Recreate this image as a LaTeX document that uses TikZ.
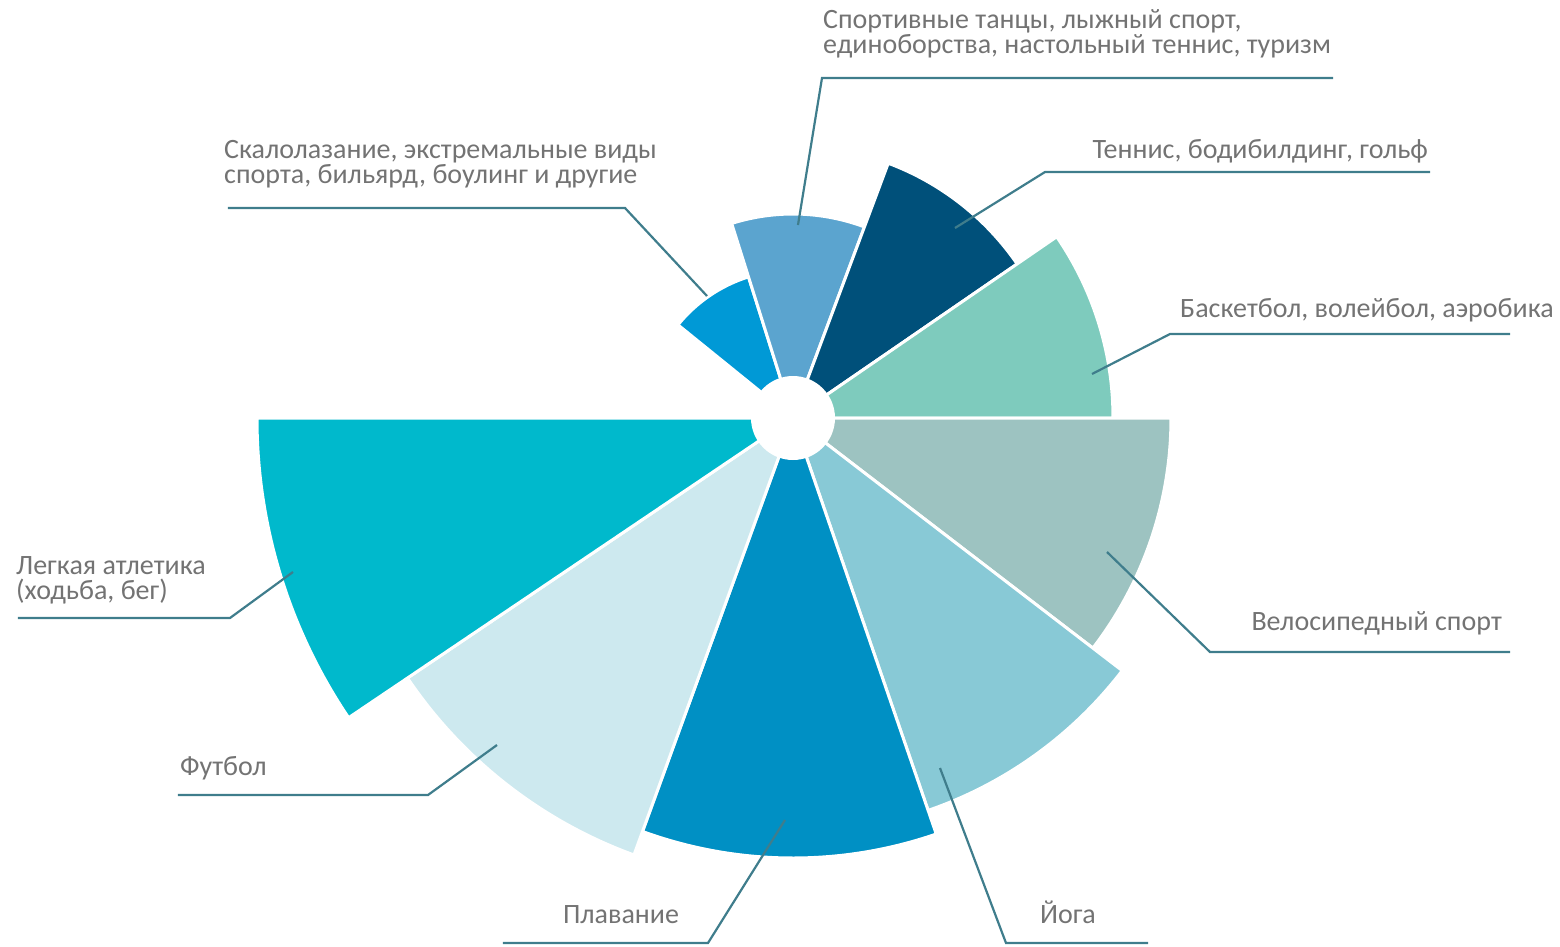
\documentclass[tikz,border=0pt]{standalone}
\usepackage{fontspec}
\setmainfont{Carlito}
\usepackage{tikz}
\usetikzlibrary{positioning}
\usepackage{xcolor}

\definecolor{skaloBlue}{RGB}{0,153,214}
\definecolor{danceBlue}{RGB}{91,164,207}
\definecolor{tennisNavy}{RGB}{0,80,122}
\definecolor{basketMint}{RGB}{126,203,189}
\definecolor{veloGrey}{RGB}{157,195,193}
\definecolor{yogaBlue}{RGB}{136,201,214}
\definecolor{swimBlue}{RGB}{0,144,196}
\definecolor{footLight}{RGB}{205,233,239}
\definecolor{athletTeal}{RGB}{0,185,204}
\definecolor{leaderTeal}{RGB}{63,125,140}
\definecolor{labelGrey}{RGB}{115,115,115}

\begin{document}
\begin{tikzpicture}[x=1pt, y=1pt,
    sector/.style={
        draw=white,
        line width=3pt,
        line join=round
    },
    leader/.style={
        draw=leaderTeal,
        line width=2.2pt
    },
    sportlabel/.style={
        inner sep=0pt,
        text=labelGrey,
        font=\fontsize{28}{25}\selectfont,
        align=left
    },
    hub/.style={
        circle,
        fill=white,
        minimum size=84pt,
        inner sep=0pt
    }
]
    % Page frame of the reference
    \useasboundingbox (-793,-528) rectangle (767,418);

    % Sectors of the rose
    \fill[skaloBlue, sector]  (0,0) -- (107.5:148) arc (107.5:141:148) -- cycle;
    \fill[danceBlue, sector]  (0,0) -- (69.5:204) arc (69.5:107.5:204) -- cycle;
    \fill[tennisNavy, sector] (0,0) -- (34.5:272) arc (34.5:69.5:272) -- cycle;
    \fill[basketMint, sector] (0,0) -- (0:320) arc (0:34.5:320) -- cycle;
    \fill[veloGrey, sector]   (0,0) -- (-37.5:378) arc (-37.5:0:378) -- cycle;
    \fill[yogaBlue, sector]   (0,0) -- (-71:415) arc (-71:-37.5:415) -- cycle;
    \fill[swimBlue, sector]   (0,0) -- (-110:440) arc (-110:-71:440) -- cycle;
    \fill[footLight, sector]  (0,0) -- (-146:465) arc (-146:-110:465) -- cycle;
    \fill[athletTeal, sector] (0,0) -- (180:536) arc (180:214:536) -- cycle;

    % White hub
    \node[hub] (hub) at (0,0) {};

    % Leader points
    \coordinate (skaloIn)  at (-86,122);
    \coordinate (skaloBend) at (-168,210);
    \coordinate (skaloEnd) at (-565,210);
    \coordinate (danceIn)  at (5,193);
    \coordinate (danceBend) at (29,340);
    \coordinate (danceEnd) at (540,340);
    \coordinate (tennisIn) at (162,190);
    \coordinate (tennisBend) at (252,246);
    \coordinate (tennisEnd) at (637,246);
    \coordinate (basketIn) at (299,44);
    \coordinate (basketBend) at (377,84);
    \coordinate (basketEnd) at (717,84);
    \coordinate (veloIn)   at (314,-134);
    \coordinate (veloBend) at (417,-234);
    \coordinate (veloEnd)  at (717,-234);
    \coordinate (yogaIn)   at (147,-350);
    \coordinate (yogaBend) at (213,-525);
    \coordinate (yogaEnd)  at (355,-525);
    \coordinate (swimIn)   at (-8,-402);
    \coordinate (swimBend) at (-85,-525);
    \coordinate (swimEnd)  at (-290,-525);
    \coordinate (footIn)   at (-296,-327);
    \coordinate (footBend) at (-365,-377);
    \coordinate (footEnd)  at (-615,-377);
    \coordinate (athletIn) at (-500,-154);
    \coordinate (athletBend) at (-563,-200);
    \coordinate (athletEnd) at (-775,-200);

    % Labels
    \node[sportlabel, anchor=base west] (skalo) at (-569,235)
        {Скалолазание, экстремальные виды\\спорта, бильярд, боулинг и другие};
    \node[sportlabel, anchor=base west] (dance) at (30,364)
        {Спортивные танцы, лыжный спорт,\\единоборства, настольный теннис, туризм};
    \node[sportlabel, anchor=base east] (tennis) at (635,260)
        {Теннис, бодибилдинг, гольф};
    \node[sportlabel, anchor=base west] (basket) at (387,101)
        {Баскетбол, волейбол, аэробика};
    \node[sportlabel, anchor=base east] (velo) at (709,-212)
        {Велосипедный спорт};
    \node[sportlabel, anchor=base] (yoga) at (275,-505) {Йога};
    \node[sportlabel, anchor=base] (swim) at (-172,-505) {Плавание};
    \node[sportlabel, anchor=base west] (foot) at (-613,-357) {Футбол};
    \node[sportlabel, anchor=base west] (athlet) at (-777,-181)
        {Легкая атлетика\\(ходьба, бег)};

    % Leader lines
    \draw[leader] (skaloIn) -- (skaloBend) -- (skaloEnd);
    \draw[leader] (danceIn) -- (danceBend) -- (danceEnd);
    \draw[leader] (tennisIn) -- (tennisBend) -- (tennisEnd);
    \draw[leader] (basketIn) -- (basketBend) -- (basketEnd);
    \draw[leader] (veloIn) -- (veloBend) -- (veloEnd);
    \draw[leader] (yogaIn) -- (yogaBend) -- (yogaEnd);
    \draw[leader] (swimIn) -- (swimBend) -- (swimEnd);
    \draw[leader] (footIn) -- (footBend) -- (footEnd);
    \draw[leader] (athletIn) -- (athletBend) -- (athletEnd);
\end{tikzpicture}
\end{document}
